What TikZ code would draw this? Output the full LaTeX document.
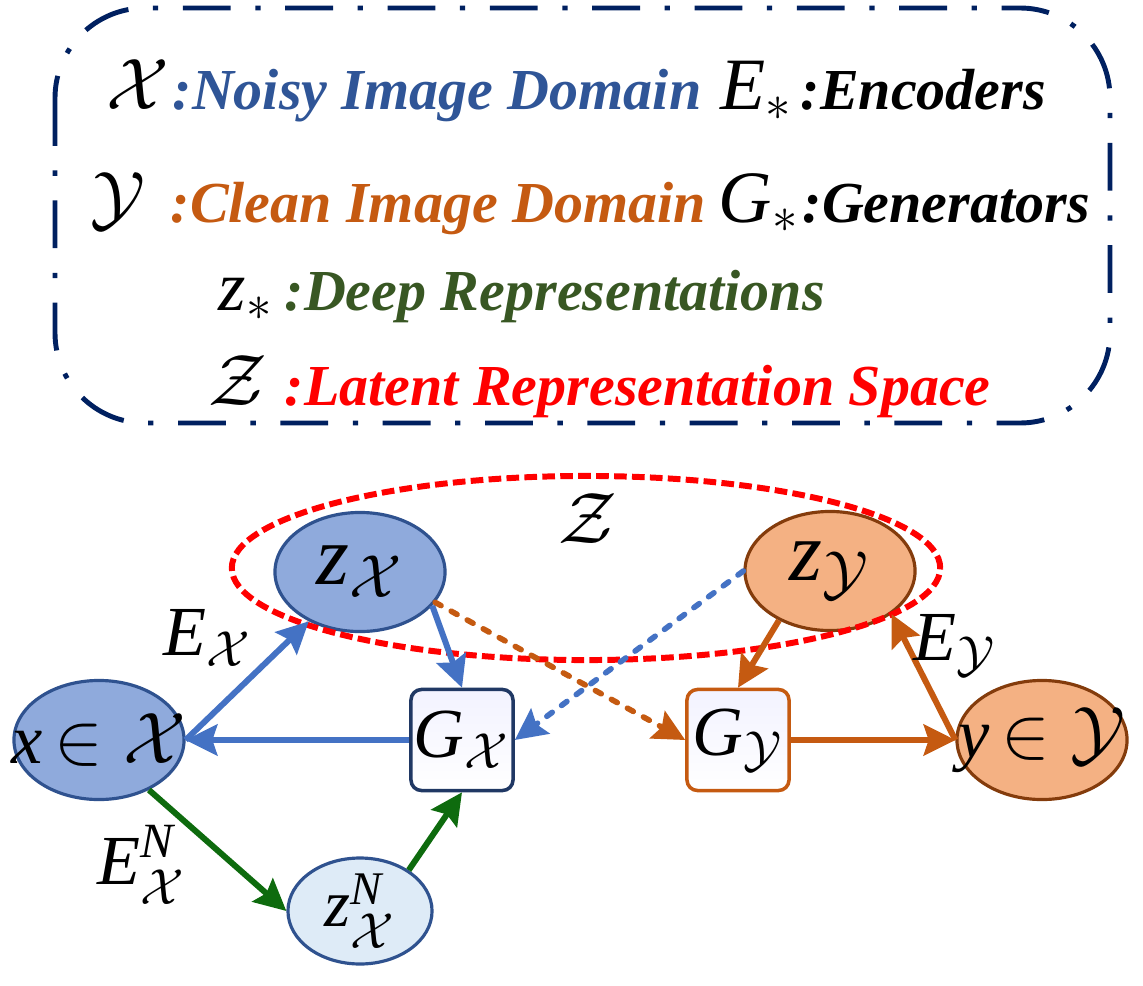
\documentclass[tikz,border=0pt]{standalone}
\usepackage{amsmath}
\usepackage{fontspec}
\setmainfont{Liberation Serif}
\usetikzlibrary{shapes.geometric,arrows.meta,positioning}
\definecolor{legnavy}{HTML}{002060}
\definecolor{legblue}{HTML}{2F5597}
\definecolor{legorange}{HTML}{C55A11}
\definecolor{leggreen}{HTML}{385723}
\definecolor{nodeblue}{HTML}{8FAADC}
\definecolor{nodelight}{HTML}{DEEBF7}
\definecolor{nodeorange}{HTML}{F4B183}
\definecolor{rimblue}{HTML}{2F528F}
\definecolor{rimbrown}{HTML}{843C0C}
\definecolor{rimnavy}{HTML}{203864}
\definecolor{arrblue}{HTML}{4472C4}
\definecolor{arrorange}{HTML}{C55A11}
\definecolor{arrgreen}{HTML}{0E6B0E}
\newcommand{\inblob}[1]{\makebox[0pt]{#1}}

\begin{document}
\begin{tikzpicture}[
    x=0.01cm, y=-0.01cm,
    legsym/.style={inner sep=0, anchor=base west, font=\fontsize{21}{25}\selectfont},
    legtxt/.style={inner sep=0, anchor=base west, font=\fontsize{16.5}{20}\selectfont\bfseries\itshape},
    blob/.style={ellipse, draw, line width=0.9pt, inner sep=0, minimum width=1.7cm, minimum height=1.19cm, font=\fontsize{20}{24}\selectfont},
    genbox/.style={draw, rounded corners=3pt, line width=1pt, inner sep=0, minimum width=1.02cm, minimum height=1.01cm, top color=blue!5, bottom color=white, font=\fontsize{20}{24}\selectfont},
    lbl/.style={inner sep=0, font=\fontsize{20}{24}\selectfont},
    conn/.style={line width=1.7pt, -{Stealth[length=9pt, width=8.8pt, inset=1.4pt]}},
    dashconn/.style={conn, line width=1.6pt, line cap=round, dash pattern=on 1.9pt off 3.3pt}
]
    \useasboundingbox (0,0) rectangle (1143,985);

    % legend
    \draw[legnavy, line width=1.4pt, rounded corners=0.9cm, dash pattern=on 13.6pt off 7pt on 1.5pt off 7pt]
        (55,8) rectangle (1110,423);
    \node[legsym] (symX) at (106,110) {$\mathcal{X}$};
    \node[legtxt, text=legblue] (txtX) at (172,110) {:Noisy Image Domain};
    \node[legsym] (symE) at (720,110) {\textit{E}$_{*}$};
    \node[legtxt] (txtE) at (800,110) {:Encoders};
    \node[legsym] (symY) at (90,222) {$\mathcal{Y}$};
    \node[legtxt, text=legorange] (txtY) at (170,222) {:Clean Image Domain};
    \node[legsym] (symG) at (718,222) {\textit{G}$_{*}$};
    \node[legtxt] (txtG) at (802,222) {:Generators};
    \node[legsym, font=\fontsize{20}{24}\selectfont] (symZs) at (218,310) {\textit{z}$_{*}$};
    \node[legtxt, text=leggreen] (txtZs) at (284,310) {:Deep Representations};
    \node[legsym] (symZ) at (208,405) {$\mathcal{Z}$};
    \node[legtxt, text=red] (txtZ) at (284,405) {:Latent Representation Space};

    % diagram
    \node[blob, fill=nodeblue, draw=rimblue] (xX) at (99,740) {\inblob{\textit{x}\,$\in\mathcal{X}$}};
    \node[blob, fill=nodeblue, draw=rimblue, font=\fontsize{24}{28}\selectfont] (zX) at (360,572) {\inblob{\textit{z}$_{\mathcal{X}}$}};
    \node[blob, fill=nodelight, draw=rimblue, minimum width=1.44cm, minimum height=1.02cm, font=\fontsize{19}{23}\selectfont] (zXN) at (360,911) {\inblob{\textit{z}$^{\textit{N}}_{\mathcal{X}}$}};
    \node[genbox, draw=rimnavy] (gX) at (462,740) {\textit{G}$_{\mathcal{X}}$};
    \node[blob, fill=nodeorange, draw=rimbrown, font=\fontsize{24}{28}\selectfont] (zY) at (830,571) {\inblob{\textit{z}$_{\mathcal{Y}}$}};
    \node[genbox, draw=arrorange] (gY) at (738,740) {\textit{G}$_{\mathcal{Y}}$};
    \node[blob, fill=nodeorange, draw=rimbrown] (yY) at (1042,740) {\inblob{\textit{y}\,$\in\mathcal{Y}$}};

    \draw[red, line width=1.7pt, dash pattern=on 3.6pt off 1.5pt] (586,568) ellipse [x radius=3.54cm, y radius=0.92cm];
    \node[lbl] (zLabel) at (588,519) {$\mathcal{Z}$};

    \draw[conn, arrblue] (xX.east) -- (zX);
    \draw[conn, arrblue] (zX.-25) -- (gX.north);
    \draw[conn, arrblue] (gX.west) -- (xX.east);
    \draw[conn, arrgreen] (xX.-45) -- (zXN.west);
    \draw[conn, arrgreen] (zXN.40) -- (gX.south);
    \draw[conn, arrorange] (zY.-136) -- (gY.north);
    \draw[conn, arrorange] (gY.east) -- (yY.west);
    \draw[conn, arrorange] (yY.west) -- (zY.-35);
    \draw[dashconn, arrorange] (zX.-22) -- (gY.west);
    \draw[dashconn, arrblue] (zY.west) -- (gX.east);

    \node[lbl] (lblEX) at (208,638) {\textit{E}$_{\mathcal{X}}$};
    \node[lbl] (lblEXN) at (142,865) {\textit{E}$^{\textit{N}}_{\mathcal{X}}$};
    \node[lbl] (lblEY) at (955,645) {\textit{E}$_{\mathcal{Y}}$};
\end{tikzpicture}
\end{document}
